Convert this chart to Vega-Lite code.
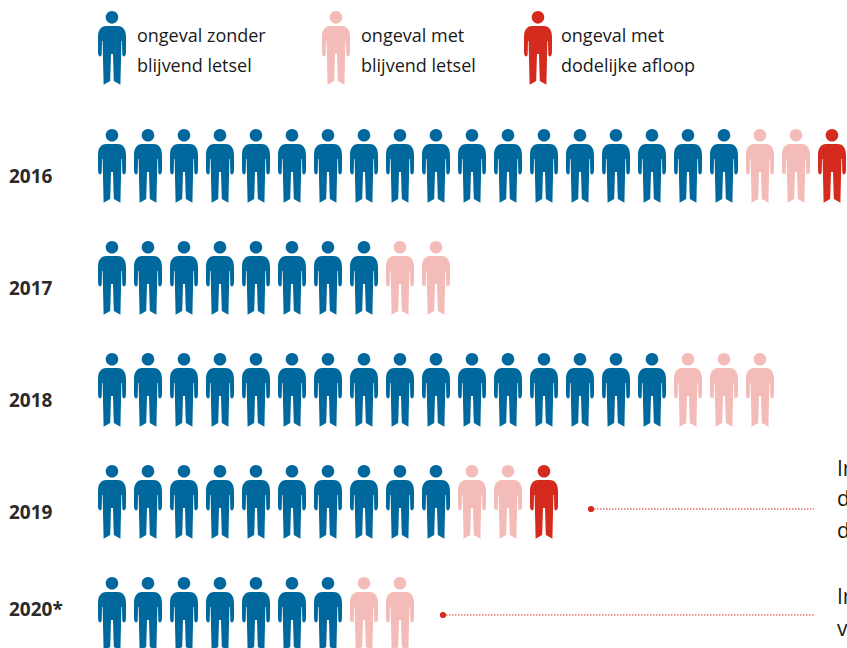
{"$schema":"https://vega.github.io/schema/vega-lite/v6.json","width":847,"height":648,"padding":0,"autosize":{"type":"none"},"background":"white","view":{"stroke":null},"config":{"font":"Open Sans"},
"datasets":{"mensen":[
{"jaar":2016,"kolom":0,"soort":"zonder"},{"jaar":2016,"kolom":1,"soort":"zonder"},{"jaar":2016,"kolom":2,"soort":"zonder"},{"jaar":2016,"kolom":3,"soort":"zonder"},{"jaar":2016,"kolom":4,"soort":"zonder"},{"jaar":2016,"kolom":5,"soort":"zonder"},{"jaar":2016,"kolom":6,"soort":"zonder"},{"jaar":2016,"kolom":7,"soort":"zonder"},{"jaar":2016,"kolom":8,"soort":"zonder"},{"jaar":2016,"kolom":9,"soort":"zonder"},{"jaar":2016,"kolom":10,"soort":"zonder"},{"jaar":2016,"kolom":11,"soort":"zonder"},{"jaar":2016,"kolom":12,"soort":"zonder"},{"jaar":2016,"kolom":13,"soort":"zonder"},{"jaar":2016,"kolom":14,"soort":"zonder"},{"jaar":2016,"kolom":15,"soort":"zonder"},{"jaar":2016,"kolom":16,"soort":"zonder"},{"jaar":2016,"kolom":17,"soort":"zonder"},{"jaar":2016,"kolom":18,"soort":"blijvend"},{"jaar":2016,"kolom":19,"soort":"blijvend"},{"jaar":2016,"kolom":20,"soort":"dodelijk"},
{"jaar":2017,"kolom":0,"soort":"zonder"},{"jaar":2017,"kolom":1,"soort":"zonder"},{"jaar":2017,"kolom":2,"soort":"zonder"},{"jaar":2017,"kolom":3,"soort":"zonder"},{"jaar":2017,"kolom":4,"soort":"zonder"},{"jaar":2017,"kolom":5,"soort":"zonder"},{"jaar":2017,"kolom":6,"soort":"zonder"},{"jaar":2017,"kolom":7,"soort":"zonder"},{"jaar":2017,"kolom":8,"soort":"blijvend"},{"jaar":2017,"kolom":9,"soort":"blijvend"},
{"jaar":2018,"kolom":0,"soort":"zonder"},{"jaar":2018,"kolom":1,"soort":"zonder"},{"jaar":2018,"kolom":2,"soort":"zonder"},{"jaar":2018,"kolom":3,"soort":"zonder"},{"jaar":2018,"kolom":4,"soort":"zonder"},{"jaar":2018,"kolom":5,"soort":"zonder"},{"jaar":2018,"kolom":6,"soort":"zonder"},{"jaar":2018,"kolom":7,"soort":"zonder"},{"jaar":2018,"kolom":8,"soort":"zonder"},{"jaar":2018,"kolom":9,"soort":"zonder"},{"jaar":2018,"kolom":10,"soort":"zonder"},{"jaar":2018,"kolom":11,"soort":"zonder"},{"jaar":2018,"kolom":12,"soort":"zonder"},{"jaar":2018,"kolom":13,"soort":"zonder"},{"jaar":2018,"kolom":14,"soort":"zonder"},{"jaar":2018,"kolom":15,"soort":"zonder"},{"jaar":2018,"kolom":16,"soort":"blijvend"},{"jaar":2018,"kolom":17,"soort":"blijvend"},{"jaar":2018,"kolom":18,"soort":"blijvend"},
{"jaar":2019,"kolom":0,"soort":"zonder"},{"jaar":2019,"kolom":1,"soort":"zonder"},{"jaar":2019,"kolom":2,"soort":"zonder"},{"jaar":2019,"kolom":3,"soort":"zonder"},{"jaar":2019,"kolom":4,"soort":"zonder"},{"jaar":2019,"kolom":5,"soort":"zonder"},{"jaar":2019,"kolom":6,"soort":"zonder"},{"jaar":2019,"kolom":7,"soort":"zonder"},{"jaar":2019,"kolom":8,"soort":"zonder"},{"jaar":2019,"kolom":9,"soort":"zonder"},{"jaar":2019,"kolom":10,"soort":"blijvend"},{"jaar":2019,"kolom":11,"soort":"blijvend"},{"jaar":2019,"kolom":12,"soort":"dodelijk"},
{"jaar":2020,"kolom":0,"soort":"zonder"},{"jaar":2020,"kolom":1,"soort":"zonder"},{"jaar":2020,"kolom":2,"soort":"zonder"},{"jaar":2020,"kolom":3,"soort":"zonder"},{"jaar":2020,"kolom":4,"soort":"zonder"},{"jaar":2020,"kolom":5,"soort":"zonder"},{"jaar":2020,"kolom":6,"soort":"zonder"},{"jaar":2020,"kolom":7,"soort":"blijvend"},{"jaar":2020,"kolom":8,"soort":"blijvend"},
{"jaar":2014.947,"kolom":0,"soort":"zonder"},{"jaar":2014.947,"kolom":6.222,"soort":"blijvend"},{"jaar":2014.947,"kolom":11.833,"soort":"dodelijk"}
],
"tekst":[
{"jaar":2014.839,"kolom":0.694,"t":"ongeval zonder"},{"jaar":2015.107,"kolom":0.694,"t":"blijvend letsel"},
{"jaar":2014.839,"kolom":6.917,"t":"ongeval met"},{"jaar":2015.107,"kolom":6.917,"t":"blijvend letsel"},
{"jaar":2014.839,"kolom":12.472,"t":"ongeval met"},{"jaar":2015.107,"kolom":12.472,"t":"dodelijke afloop"}
],
"notities":[
{"jaar":2018.705,"kolom":20.139,"t":"In"},{"jaar":2018.973,"kolom":20.139,"t":"d"},{"jaar":2019.259,"kolom":20.139,"t":"d"},
{"jaar":2019.848,"kolom":20.139,"t":"In"},{"jaar":2020.134,"kolom":20.139,"t":"v"}
],
"jaren":[
{"jaar":2016.089,"kolom":-2.861,"t":"2016"},{"jaar":2017.089,"kolom":-2.861,"t":"2017"},{"jaar":2018.089,"kolom":-2.861,"t":"2018"},{"jaar":2019.089,"kolom":-2.861,"t":"2019"},{"jaar":2019.955,"kolom":-2.861,"t":"2020*"}
],
"lijnen":[
{"jaar":2019.063,"van":13.306,"tot":19.5},{"jaar":2020.009,"van":9.194,"tot":19.5}
]},
"encoding":{
"x":{"field":"kolom","type":"quantitative","scale":{"domain":[-3.1111,20.4167]},"axis":null},
"y":{"field":"jaar","type":"quantitative","scale":{"domain":[2014.518,2020.304],"reverse":true,"zero":false,"nice":false},"axis":null}},
"layer":[
{"data":{"name":"mensen"},"mark":{"type":"point","filled":true,"opacity":1,"size":4,"strokeWidth":0,"clip":false,"shape":"M0 -37A6.3 6.3 0 1 1 0 -24.4A6.3 6.3 0 1 1 0 -37ZM-6 -22L6 -22C11 -22 14 -18 14 -11L14 4C14 7 13 8.5 11.5 8.5L10.3 7L10 -7L9.4 -7L8.4 36.7L1.8 33L1 6L-1 6L-1.8 33L-8.4 36.7L-9.4 -7L-10 -7L-10.3 7L-11.5 8.5C-13 8.5 -14 7 -14 4L-14 -11C-14 -18 -11 -22 -6 -22Z"},
"encoding":{"color":{"field":"soort","type":"nominal","legend":null,"scale":{"domain":["zonder","blijvend","dodelijk"],"range":["#00689D","#F4BCB8","#D52B1E"]}}}},
{"data":{"name":"lijnen"},"mark":{"type":"rule","color":"#D52B1E","strokeWidth":1,"strokeDash":[1.5,1.5]},"encoding":{"x":{"field":"van","type":"quantitative"},"x2":{"field":"tot"}}},
{"data":{"name":"lijnen"},"mark":{"type":"point","filled":true,"opacity":1,"size":38,"shape":"circle","color":"#D52B1E"},"encoding":{"x":{"field":"van","type":"quantitative"}}},
{"data":{"name":"tekst"},"mark":{"type":"text","align":"left","baseline":"middle","fontSize":18,"dy":1.5,"color":"#1a1a1a","font":"Open Sans"},"encoding":{"text":{"field":"t"}}},
{"data":{"name":"notities"},"mark":{"type":"text","align":"left","baseline":"middle","fontSize":21,"dy":1,"color":"#1a1a1a","font":"Open Sans"},"encoding":{"text":{"field":"t"}}},
{"data":{"name":"jaren"},"mark":{"type":"text","align":"left","baseline":"middle","fontSize":19,"fontWeight":"bold","dy":1,"color":"#2a2a2a","font":"Open Sans"},"encoding":{"text":{"field":"t"}}}
]}
